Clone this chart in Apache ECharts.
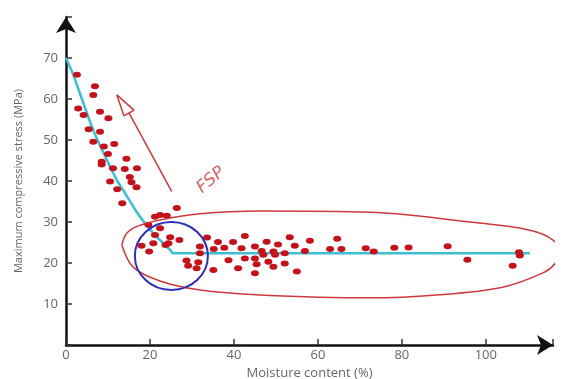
<!DOCTYPE html>
<html>
<head>
<meta charset="utf-8">
<script src="https://cdn.jsdelivr.net/npm/echarts@6/dist/echarts.min.js"></script>
<style>
  html, body { margin: 0; padding: 0; background: #fff; }
  #chart_1 { width: 565px; height: 379px; }
</style>
</head>
<body>
<div id="chart_1"></div>
<script>
// measured samples (moisture %, stress MPa)
var points = [
    [2.6, 65.9], [6.9, 63.1], [6.5, 61], [2.9, 57.7], [4.2, 56.1], [8.1, 56.9], [10.1, 55.3],
    [5.4, 52.6], [8.1, 52], [6.5, 49.6], [9, 48.4], [11.5, 49], [10, 46.6], [8.5, 44.7],
    [8.5, 44], [14.4, 45.4], [11.2, 43.1], [14, 42.9], [16.9, 43.1], [15.2, 41], [15.6, 39.7],
    [10.5, 39.9], [12.2, 38], [16.8, 38.5], [13.4, 34.6], [26.4, 33.4], [21.2, 31.3],
    [22.4, 31.7], [24, 31.5], [19.6, 29.3], [22.4, 28.5], [21.2, 26.8], [24.8, 26.3],
    [27, 25.6], [20.8, 24.8], [23.7, 24.4], [24.4, 24.8], [18, 24.2], [19.8, 22.8],
    [31.9, 24], [31.9, 22.4], [28.7, 20.6], [31.5, 20.2], [29.1, 19.3], [31.1, 18.7],
    [33.6, 26.2], [36.2, 25.1], [35.2, 23.4], [35.1, 18.3], [37.7, 23.7], [39.8, 25.1],
    [38.7, 20.7], [42.6, 26.6], [41.8, 23.6], [41, 18.7], [45, 24], [45, 21.1], [45.4, 19.7],
    [45, 17.5], [42.6, 21.1], [46.6, 22.9], [47, 22], [47.8, 25.2], [49.4, 22.8], [49.8, 22],
    [50.5, 24.5], [48.2, 20.3], [49.4, 19.1], [52.1, 22.4], [52.1, 19.9], [53.3, 26.3],
    [54.5, 24.2], [55, 17.9], [56.9, 22.9], [58.1, 25.4], [64.6, 25.9], [62.9, 23.4],
    [65.6, 23.4], [71.4, 23.6], [73.3, 22.8], [78.2, 23.7], [81.6, 23.8], [90.9, 24.1],
    [95.6, 20.8], [107.9, 22.6], [108.1, 21.8], [106.4, 19.3]
];

// fitted trend (bilinear with knee near FSP)
var trend = [[0, 70], [1.7, 66], [6.5, 52.4], [12.1, 40.2], [13.6, 37.8], [16.8, 32.5],
    [18.8, 29.7], [21.2, 26.8], [24.8, 23.2], [25.5, 22.4], [110.5, 22.4]];

// hand drawn notes
var loop = [[13.3, 24.4], [14.5, 27.3], [17.1, 29], [22.4, 30.5], [31.9, 32], [46.2, 32.7],
    [72.4, 32.4], [96.2, 30], [110.5, 28], [116, 25.6], [117.4, 22.7], [116.4, 19.8],
    [113.6, 17.6], [104, 14.1], [88.3, 12.2], [72.4, 11.5], [46.2, 12.2], [31.9, 13.4],
    [22.4, 15.6], [16, 19], [13.3, 24.4]];
var arrowShaft = [[25.2, 37.4], [15, 56.6]];
var arrowHead = [[13.8, 55.9], [12.1, 61], [16.2, 57.3], [13.8, 55.9]];
var noteText = [[34.5, 40.2]];
var circleCenter = [25.1, 21.7];
var circleRadius = [8.7, 8.3];

var xTicks = [0, 20, 40, 60, 80, 100];
var yTicks = [10, 20, 30, 40, 50, 60, 70];

var myChart = echarts.init(document.getElementById("chart_1"));

var noteColor = '#cc3a40';

var option = {
    backgroundColor: '#fff',
    animation: false,
    grid: {
        left: 66,
        top: 17,
        width: 487,
        height: 328,
        outerBoundsMode: 'none'
    },
    xAxis: {
        type: 'value',
        min: 0,
        max: 116,
        interval: 20,
        name: 'Moisture content (%)',
        nameLocation: 'middle',
        nameGap: 18,
        nameTextStyle: { color: '#666', fontSize: 13, fontFamily: 'Open Sans' },
        splitLine: { show: false },
        axisLine: {
            lineStyle: { color: '#111', width: 2.5 },
            symbol: ['none', 'arrow'],
            symbolSize: [15, 16]
        },
        axisTick: { inside: true, length: 6, lineStyle: { color: '#333', width: 1.5 } },
        axisLabel: {
            color: '#666', fontSize: 13, fontFamily: 'Open Sans', margin: 4,
            formatter: function (v) { return xTicks.indexOf(v) >= 0 ? String(v) : ''; }
        }
    },
    yAxis: {
        type: 'value',
        min: 0,
        max: 80,
        interval: 10,
        name: 'Maximum compressive stress (MPa)',
        nameLocation: 'middle',
        nameGap: 42,
        nameTextStyle: { color: '#666', fontSize: 11, fontFamily: 'Open Sans' },
        splitLine: { show: false },
        axisLine: {
            lineStyle: { color: '#111', width: 2.5 },
            symbol: ['none', 'arrow'],
            symbolSize: [15, 16]
        },
        axisTick: { inside: true, length: 6, lineStyle: { color: '#333', width: 1.5 } },
        axisLabel: {
            color: '#666', fontSize: 13, fontFamily: 'Open Sans', margin: 8,
            formatter: function (v) { return yTicks.indexOf(v) >= 0 ? String(v) : ''; }
        }
    },
    series: [
        {
            name: 'trend',
            type: 'line',
            data: trend,
            showSymbol: false,
            smooth: 0.2,
            lineStyle: { color: '#3cbfd2', width: 2.5 },
            z: 2
        },
        {
            name: 'samples',
            type: 'scatter',
            data: points,
            symbol: 'circle',
            symbolSize: [8, 6],
            itemStyle: { color: '#c4121c', opacity: 1 },
            z: 3
        },
        {
            name: 'loop',
            type: 'line',
            data: loop,
            showSymbol: false,
            smooth: 0.35,
            clip: false,
            lineStyle: { color: noteColor, width: 1.5 },
            z: 4
        },
        {
            name: 'shaft',
            type: 'line',
            data: arrowShaft,
            showSymbol: false,
            lineStyle: { color: noteColor, width: 1.5 },
            z: 4
        },
        {
            name: 'head',
            type: 'line',
            data: arrowHead,
            showSymbol: false,
            lineStyle: { color: noteColor, width: 1.5 },
            z: 4
        },
        {
            name: 'note',
            type: 'scatter',
            data: noteText,
            symbolSize: 0,
            label: {
                show: true,
                position: 'inside',
                formatter: 'FSP',
                rotate: 40,
                color: noteColor,
                fontSize: 17,
                fontStyle: 'italic',
                fontFamily: 'DejaVu Sans',
                fontWeight: 'normal'
            },
            z: 4
        }
    ]
};

myChart.setOption(option);

// blue circle round the knee, placed in data units
var c = myChart.convertToPixel({ gridIndex: 0 }, circleCenter);
var e = myChart.convertToPixel({ gridIndex: 0 }, [circleCenter[0] + circleRadius[0], circleCenter[1] + circleRadius[1]]);
myChart.setOption({
    graphic: [{
        type: 'ellipse',
        shape: { cx: c[0], cy: c[1], rx: Math.abs(e[0] - c[0]), ry: Math.abs(c[1] - e[1]) },
        style: { fill: 'none', stroke: '#2e2fb8', lineWidth: 2 },
        z: 10
    }]
});

window.addEventListener("resize", function () {
    myChart.resize();
});
</script>
</body>
</html>
